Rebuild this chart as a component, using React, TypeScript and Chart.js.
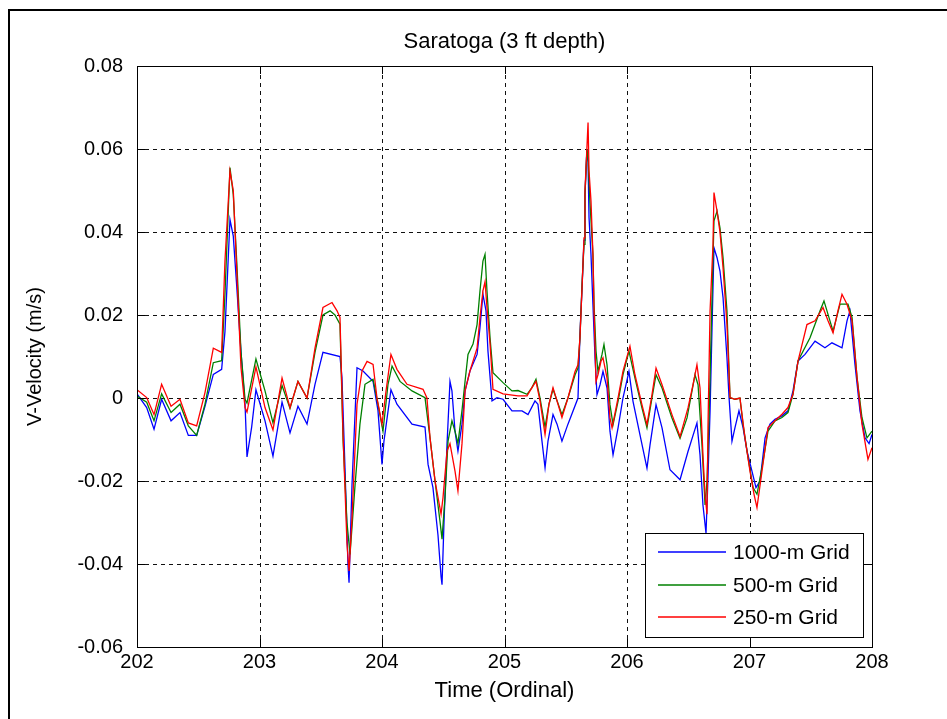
import React, { useEffect, useRef } from 'react';
import { Chart, registerables } from 'chart.js';

Chart.register(...registerables);

// ---------- data ----------
const TITLE = 'Saratoga (3 ft depth)';
const X_LABEL = 'Time (Ordinal)';
const Y_LABEL = 'V-Velocity (m/s)';

const X_TICKS = [202, 203, 204, 205, 206, 207, 208];
const Y_TICKS = [-0.06, -0.04, -0.02, 0, 0.02, 0.04, 0.06, 0.08];

const SERIES_NAMES = ['1000-m Grid', '500-m Grid', '250-m Grid'];
const SERIES_COLORS = ['#0000ff', '#008000', '#ff0000'];

const T_1000 = [202.000,202.079,202.139,202.201,202.278,202.351,202.419,202.487,202.555,202.623,
202.691,202.718,202.759,202.786,202.814,202.849,202.882,202.898,202.936,202.971,
203.045,203.110,203.184,203.249,203.314,203.388,203.453,203.518,203.657,203.673,
203.698,203.722,203.731,203.755,203.796,203.845,203.927,203.967,204.000,204.016,
204.073,204.122,204.245,204.351,204.376,204.416,204.457,204.482,204.490,204.506,
204.531,204.555,204.571,204.596,204.620,204.653,204.678,204.718,204.776,204.800,
204.824,204.849,204.865,204.898,204.939,204.988,205.061,205.143,205.192,205.249,
205.273,205.306,205.331,205.355,205.396,205.429,205.469,205.518,205.600,205.616,
205.633,205.649,205.657,205.673,205.682,205.690,205.706,205.722,205.739,205.755,
205.780,205.804,205.837,205.861,205.886,205.927,205.967,206.016,206.049,206.106,
206.163,206.188,206.237,206.286,206.351,206.433,206.498,206.571,206.596,206.620,
206.645,206.661,206.678,206.694,206.710,206.735,206.759,206.784,206.816,206.833,
206.857,206.882,206.914,206.947,206.980,207.020,207.053,207.086,207.127,207.167,
207.208,207.265,207.314,207.355,207.396,207.453,207.535,207.616,207.673,207.755,
207.796,207.820,207.861,207.902,207.943,207.976,208.000];
const V_1000 = [0.001,-0.0023,-0.0075,-0.0003,-0.0055,-0.0035,-0.009,-0.009,-0.002,0.0057,
0.0069,0.016,0.043,0.039,0.027,0.011,-0.0015,-0.0142,-0.007,0.002,
-0.0055,-0.014,-0.001,-0.0084,-0.002,-0.0063,0.0033,0.011,0.010,0.005,
-0.017,-0.040,-0.0445,-0.021,0.0073,0.0065,0.004,-0.003,-0.016,-0.0104,
0.002,-0.0015,-0.0063,-0.007,-0.016,-0.0216,-0.033,-0.043,-0.045,-0.030,
-0.011,0.004,0.0017,-0.008,-0.0128,-0.0063,0.0017,0.0065,0.0105,0.017,
0.025,0.021,0.0113,-0.0007,0.0001,-0.0003,-0.0031,-0.0031,-0.004,-0.0007,
-0.0015,-0.0104,-0.0168,-0.0104,-0.004,-0.0063,-0.0104,-0.0063,0.0,0.0153,
0.0266,0.038,0.049,0.060,0.057,0.0435,0.0346,0.0225,0.0097,0.0008,
0.0032,0.0064,0.0024,-0.008,-0.0137,-0.0072,0.0,0.0064,-0.0008,-0.0089,
-0.0169,-0.0113,-0.0016,-0.0072,-0.0173,-0.0197,-0.0129,-0.006,-0.0137,-0.0258,
-0.0326,-0.0193,-0.0032,0.0169,0.0362,0.0338,0.0306,0.0242,0.0097,0.0001,
-0.0104,-0.0071,-0.0031,-0.0071,-0.0128,-0.0176,-0.0216,-0.020,-0.0096,-0.0063,
-0.0051,-0.0043,-0.0031,0.0017,0.0089,0.0105,0.0137,0.0121,0.0133,0.0121,
0.0186,0.021,0.0081,-0.0031,-0.0096,-0.011,-0.0088];

const T_500 = [202.000,202.079,202.139,202.201,202.278,202.351,202.419,202.487,202.555,202.623,
202.691,202.718,202.759,202.786,202.814,202.849,202.882,202.898,202.971,203.045,
203.110,203.184,203.249,203.314,203.388,203.453,203.518,203.576,203.616,203.657,
203.682,203.714,203.739,203.780,203.820,203.861,203.927,203.967,204.008,204.049,
204.082,204.147,204.245,204.351,204.392,204.433,204.473,204.490,204.514,204.539,
204.571,204.596,204.620,204.653,204.678,204.702,204.743,204.776,204.800,204.824,
204.841,204.857,204.882,204.906,204.988,205.061,205.110,205.184,205.224,205.257,
205.290,205.331,205.363,205.396,205.469,205.518,205.576,205.600,205.616,205.633,
205.649,205.657,205.673,205.682,205.698,205.722,205.731,205.747,205.763,205.796,
205.812,205.837,205.861,205.886,205.927,205.967,206.016,206.065,206.122,206.163,
206.204,206.237,206.286,206.367,206.433,206.490,206.555,206.580,206.612,206.637,
206.653,206.669,206.694,206.710,206.735,206.759,206.784,206.816,206.841,206.882,
206.922,206.947,206.988,207.029,207.061,207.102,207.151,207.208,207.265,207.314,
207.355,207.396,207.494,207.576,207.608,207.682,207.739,207.804,207.837,207.878,
207.918,207.959,208.000];
const V_500 = [0.0005,-0.001,-0.0055,0.001,-0.0035,-0.0015,-0.0067,-0.009,-0.0015,0.0085,
0.009,0.025,0.0555,0.049,0.033,0.011,-0.0003,-0.0012,0.0094,0.0017,
-0.006,0.003,-0.0025,0.004,0.0,0.011,0.020,0.021,0.020,0.0178,
-0.010,-0.030,-0.0377,-0.021,-0.0063,0.0033,0.0045,-0.0015,-0.008,0.0033,
0.0077,0.004,0.0017,0.0001,-0.0096,-0.020,-0.0296,-0.034,-0.024,-0.0104,
-0.0055,-0.008,-0.011,-0.003,0.004,0.0105,0.013,0.0177,0.0258,0.033,
0.0346,0.0258,0.0145,0.0061,0.0037,0.0017,0.0018,0.0009,0.0025,0.0045,
0.0,-0.007,-0.0015,0.0021,-0.004,0.0,0.0056,0.0072,0.0145,0.0274,
0.037,0.049,0.060,0.058,0.047,0.0346,0.0225,0.0113,0.0064,0.0105,
0.0129,0.008,-0.0016,-0.0064,-0.0008,0.0056,0.0113,0.0048,-0.0024,-0.0072,
0.0,0.0056,0.0024,-0.0048,-0.0097,-0.0048,0.0056,0.0032,-0.0113,-0.0258,
-0.0201,-0.0056,0.0241,0.0427,0.045,0.041,0.0338,0.021,0.0001,-0.0003,
0.0,-0.0063,-0.0144,-0.0216,-0.0232,-0.0168,-0.008,-0.0055,-0.0047,-0.0035,
0.0009,0.0089,0.0145,0.021,0.0234,0.0161,0.0226,0.0226,0.0194,0.0049,
-0.0047,-0.0096,-0.008];

const T_250 = [202.000,202.079,202.139,202.201,202.278,202.351,202.419,202.487,202.555,202.623,
202.691,202.718,202.759,202.786,202.814,202.849,202.882,202.898,202.971,203.045,
203.110,203.184,203.249,203.314,203.388,203.453,203.518,203.592,203.633,203.657,
203.682,203.714,203.731,203.755,203.796,203.837,203.878,203.927,203.959,204.000,
204.033,204.073,204.122,204.204,204.335,204.367,204.392,204.433,204.482,204.498,
204.531,204.555,204.596,204.620,204.653,204.678,204.718,204.776,204.800,204.824,
204.841,204.857,204.882,204.906,204.988,205.110,205.184,205.224,205.257,205.290,
205.331,205.363,205.396,205.469,205.518,205.576,205.600,205.616,205.633,205.649,
205.657,205.682,205.690,205.706,205.722,205.731,205.747,205.763,205.788,205.804,
205.837,205.861,205.878,205.927,205.967,206.024,206.065,206.122,206.163,206.204,
206.237,206.286,206.367,206.433,206.498,206.539,206.571,206.596,206.620,206.637,
206.653,206.661,206.678,206.702,206.710,206.735,206.759,206.784,206.816,206.841,
206.882,206.922,206.963,207.004,207.037,207.061,207.102,207.151,207.208,207.265,
207.314,207.355,207.396,207.469,207.535,207.600,207.641,207.682,207.722,207.755,
207.796,207.837,207.878,207.918,207.967,208.000];
const V_250 = [0.002,0.0001,-0.004,0.0033,-0.002,-0.0003,-0.006,-0.0067,0.0013,0.012,
0.011,0.033,0.0547,0.050,0.031,0.0073,-0.0023,-0.0034,0.0075,-0.0023,
-0.0077,0.0048,-0.0023,0.004,0.0,0.012,0.0218,0.023,0.021,0.0194,
-0.0088,-0.035,-0.0417,-0.029,-0.0015,0.0065,0.0088,0.0081,0.0,-0.0063,
0.0017,0.0105,0.0069,0.0033,0.0021,0.0,-0.0096,-0.020,-0.028,-0.024,
-0.0128,-0.011,-0.0176,-0.0224,-0.011,0.0017,0.0065,0.012,0.0194,0.0258,
0.028,0.0218,0.013,0.0021,0.001,0.0005,0.0005,0.0025,0.004,-0.0007,
-0.0088,-0.0015,0.0025,-0.0047,0.0,0.0064,0.008,0.0145,0.0266,0.0386,
0.050,0.0664,0.0547,0.0475,0.0346,0.021,0.004,0.0056,0.0089,0.0097,
0.0048,-0.0048,-0.0072,0.0,0.0064,0.0125,0.0056,-0.0016,-0.0064,0.0008,
0.0072,0.0032,-0.004,-0.0093,-0.0024,0.0032,0.008,0.0024,-0.0137,-0.0233,
-0.028,-0.0072,0.0209,0.037,0.0495,0.045,0.040,0.0314,0.0177,0.0001,
-0.0003,0.0,-0.0096,-0.0176,-0.0232,-0.0264,-0.0176,-0.0071,-0.0055,-0.0039,
-0.0023,0.0009,0.0089,0.0177,0.0186,0.0218,0.0186,0.0157,0.021,0.025,
0.0226,0.0186,0.0049,-0.0063,-0.0148,-0.012];

const SERIES_T = [T_1000, T_500, T_250];
const SERIES_V = [V_1000, V_500, V_250];

// ---------- styling ----------
const FONT_FAMILY = '"Liberation Sans", Arial, Helvetica, sans-serif';
const TICK_FONT_SIZE = 20;
const LABEL_FONT_SIZE = 22;
const LEGEND_FONT_SIZE = 21;
const TICK_LEN = 8;

const matlabPlugin = {
  id: 'matlabLook',
  beforeDraw(chart: any) {
    const { ctx, width, height } = chart;
    ctx.save();
    ctx.fillStyle = '#ffffff';
    ctx.fillRect(0, 0, width, height);
    // outer figure frame (left + top visible)
    ctx.strokeStyle = '#000';
    ctx.lineWidth = 2;
    ctx.beginPath();
    ctx.moveTo(9, height + 5);
    ctx.lineTo(9, 10);
    ctx.lineTo(width + 5, 10);
    ctx.stroke();
    ctx.restore();
  },
  beforeDatasetsDraw(chart: any) {
    const { ctx, chartArea } = chart;
    const xs = chart.scales.x;
    const ys = chart.scales.y;
    ctx.save();
    ctx.strokeStyle = '#111';
    ctx.lineWidth = 1;
    ctx.setLineDash([4, 4]);
    X_TICKS.forEach((v) => {
      const px = Math.round(xs.getPixelForValue(v)) + 0.5;
      if (px <= chartArea.left + 1 || px >= chartArea.right - 1) return;
      ctx.beginPath();
      ctx.moveTo(px, chartArea.bottom);
      ctx.lineTo(px, chartArea.top);
      ctx.stroke();
    });
    Y_TICKS.forEach((v) => {
      const py = Math.round(ys.getPixelForValue(v)) + 0.5;
      if (py <= chartArea.top + 1 || py >= chartArea.bottom - 1) return;
      ctx.beginPath();
      ctx.moveTo(chartArea.left, py);
      ctx.lineTo(chartArea.right, py);
      ctx.stroke();
    });
    ctx.restore();
  },
  afterDatasetsDraw(chart: any) {
    const { ctx, chartArea } = chart;
    const { left, right, top, bottom } = chartArea;
    const xs = chart.scales.x;
    const ys = chart.scales.y;
    ctx.save();
    ctx.setLineDash([]);
    ctx.strokeStyle = '#000';
    ctx.lineWidth = 1;
    // axes box
    ctx.strokeRect(Math.round(left) + 0.5, Math.round(top) + 0.5, Math.round(right - left), Math.round(bottom - top));
    // inward ticks on all four sides
    ctx.beginPath();
    X_TICKS.forEach((v) => {
      const px = Math.round(xs.getPixelForValue(v)) + 0.5;
      ctx.moveTo(px, bottom);
      ctx.lineTo(px, bottom - TICK_LEN);
      ctx.moveTo(px, top);
      ctx.lineTo(px, top + TICK_LEN);
    });
    Y_TICKS.forEach((v) => {
      const py = Math.round(ys.getPixelForValue(v)) + 0.5;
      ctx.moveTo(left, py);
      ctx.lineTo(left + TICK_LEN, py);
      ctx.moveTo(right, py);
      ctx.lineTo(right - TICK_LEN, py);
    });
    ctx.stroke();

    // legend
    const lx = 645.5, ly = 533.5, lw = 218, lh = 104;
    ctx.fillStyle = '#fff';
    ctx.fillRect(lx, ly, lw, lh);
    ctx.strokeStyle = '#000';
    ctx.strokeRect(lx, ly, lw, lh);
    ctx.font = `${LEGEND_FONT_SIZE}px ${FONT_FAMILY}`;
    ctx.textBaseline = 'middle';
    ctx.textAlign = 'left';
    const rows = [552, 585, 617];
    SERIES_NAMES.forEach((name, i) => {
      ctx.strokeStyle = SERIES_COLORS[i];
      ctx.lineWidth = 1.5;
      ctx.beginPath();
      ctx.moveTo(658, rows[i]);
      ctx.lineTo(726, rows[i]);
      ctx.stroke();
      ctx.fillStyle = '#000';
      ctx.fillText(name, 733, rows[i] + 1);
    });

    // title & axis labels
    ctx.fillStyle = '#000';
    ctx.textAlign = 'center';
    ctx.textBaseline = 'middle';
    ctx.font = `${LABEL_FONT_SIZE}px ${FONT_FAMILY}`;
    ctx.fillText(TITLE, (left + right) / 2, 42);
    ctx.fillText(X_LABEL, (left + right) / 2, 691);
    ctx.font = `${TICK_FONT_SIZE}px ${FONT_FAMILY}`;
    ctx.translate(35, (top + bottom) / 2);
    ctx.rotate(-Math.PI / 2);
    ctx.fillText(Y_LABEL, 0, 0);
    ctx.restore();
  },
};

export default function App() {
  const canvasRef = useRef<HTMLCanvasElement>(null);

  useEffect(() => {
    const canvas = canvasRef.current;
    if (!canvas) return;
    const datasets = SERIES_NAMES.map((name, i) => ({
      label: name,
      data: SERIES_T[i].map((t, k) => ({ x: t, y: SERIES_V[i][k] })),
      borderColor: SERIES_COLORS[i],
      backgroundColor: SERIES_COLORS[i],
      borderWidth: 1.3,
      pointRadius: 0,
      tension: 0,
      fill: false,
      order: 3 - i,
    }));
    const tickFont = { family: FONT_FAMILY, size: TICK_FONT_SIZE };
    const chart = new Chart(canvas, {
      type: 'line',
      data: { datasets },
      options: {
        animation: false,
        responsive: false,
        maintainAspectRatio: false,
        devicePixelRatio: 1,
        layout: { padding: { left: 0, top: 66, right: 75, bottom: 0 } },
        plugins: {
          legend: { display: false },
          tooltip: { enabled: false },
          title: { display: false },
        },
        scales: {
          x: {
            type: 'linear',
            position: 'bottom',
            min: 202,
            max: 208,
            afterBuildTicks: (s: any) => {
              s.ticks = X_TICKS.map((value) => ({ value }));
            },
            afterFit: (s: any) => {
              s.height = 72;
            },
            grid: { display: false, drawTicks: false },
            border: { display: false },
            ticks: {
              font: tickFont,
              color: '#000',
              padding: 3,
              maxRotation: 0,
              autoSkip: false,
              callback: (v: any) => String(v),
            },
          },
          y: {
            type: 'linear',
            position: 'left',
            min: -0.06,
            max: 0.08,
            afterBuildTicks: (s: any) => {
              s.ticks = Y_TICKS.map((value) => ({ value }));
            },
            afterFit: (s: any) => {
              s.width = 137;
            },
            grid: { display: false, drawTicks: false },
            border: { display: false },
            ticks: {
              font: tickFont,
              color: '#000',
              padding: 14,
              autoSkip: false,
              callback: (v: any) => {
                const r = Math.round(Number(v) * 100) / 100;
                return r === 0 ? '0' : r.toFixed(2);
              },
            },
          },
        },
      },
      plugins: [matlabPlugin],
    } as any);
    return () => chart.destroy();
  }, []);

  return (
    <div style={{ position: 'fixed', left: 0, top: 0, width: 947, height: 719, background: '#fff' }}>
      <canvas ref={canvasRef} width={947} height={719} style={{ width: 947, height: 719, display: 'block' }} />
    </div>
  );
}
